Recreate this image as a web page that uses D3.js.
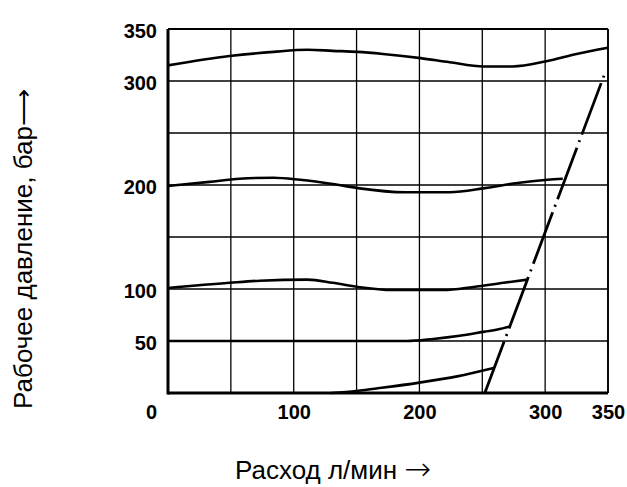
<!DOCTYPE html>
<html>
<head>
<meta charset="utf-8">
<script src="https://cdn.jsdelivr.net/npm/d3@7"></script>
<style>
    body { margin: 0; background: #fff; }
    #container { width: 627px; height: 487px; }
</style>
</head>
<body>
<div id="container"></div>
<script>
// ---- data (flow in l/min, pressure in bar) ----
const gridSteps = [0, 50, 100, 150, 200, 250, 300, 350];
const flowLabels = [100, 200, 300, 350];
const pressureLabels = [50, 100, 200, 300, 350];
const originLabel = "0";

const curve330Flow  = [0, 49, 84, 111, 131, 151, 171, 201, 224, 251, 274, 301, 325, 350];
const curve330Press = [315, 324, 328, 330, 329, 328, 326, 322, 318, 314, 314, 319, 326, 332];

const curve200Flow  = [0, 33, 57, 84, 105, 131, 151, 189, 224, 252, 278, 302, 314];
const curve200Press = [199, 203, 206, 207, 205, 201, 197, 193, 193, 197, 202, 205, 206];

const curve100Flow  = [0, 49, 73, 111, 131, 151, 179, 219, 243, 267, 286];
const curve100Press = [101, 106, 108, 109, 106, 102, 99, 99, 102, 106, 109];

const curve50Flow   = [0, 145, 190, 211, 232, 252, 262, 272];
const curve50Press  = [50, 50, 50, 52, 55, 59, 61, 64];

const curve0Flow    = [130, 150, 170, 200, 230, 259];
const curve0Press   = [0, 2, 5, 10, 16, 24];

const limitFlow     = [252, 348];
const limitPress    = [0, 309];

const xTitle = "Расход л/мин";
const yTitle = "Рабочее давление, бар⟶";
const arrow = "→";

(function(){

    const width = 627;
    const height = 487;
    const margin = {top: 29, right: 19, bottom: 94, left: 168};
    const labelFont = "bold 20px 'Liberation Sans', Arial, sans-serif";
    const titleFont = "26px 'Liberation Sans', Arial, sans-serif";

    const x = d3.scaleLinear([0, 350], [margin.left, width - margin.right]);
    const y = d3.scaleLinear([0, 350], [height - margin.bottom, margin.top]);

    const svg = d3.select("#container")
        .append("svg")
        .attr("width", width)
        .attr("height", height);

    // grid
    const grid = svg.append("g")
        .attr("stroke", "#000")
        .attr("stroke-width", 1.3);

    grid.selectAll(".vgrid")
        .data(gridSteps)
        .join("line")
        .attr("class", "vgrid")
        .attr("x1", d => x(d)).attr("x2", d => x(d))
        .attr("y1", y(0)).attr("y2", y(350));

    grid.selectAll(".hgrid")
        .data(gridSteps)
        .join("line")
        .attr("class", "hgrid")
        .attr("y1", d => y(d)).attr("y2", d => y(d))
        .attr("x1", x(0)).attr("x2", x(350));

    // frame: left and bottom heavier
    svg.append("line")
        .attr("x1", x(0)).attr("x2", x(0))
        .attr("y1", y(0) + 1.5).attr("y2", y(350))
        .attr("stroke", "#000").attr("stroke-width", 3);
    svg.append("line")
        .attr("x1", x(0)).attr("x2", x(350))
        .attr("y1", y(0)).attr("y2", y(0))
        .attr("stroke", "#000").attr("stroke-width", 3);
    svg.append("line")
        .attr("x1", x(0)).attr("x2", x(350))
        .attr("y1", y(350)).attr("y2", y(350))
        .attr("stroke", "#000").attr("stroke-width", 1.8);
    svg.append("line")
        .attr("x1", x(350)).attr("x2", x(350))
        .attr("y1", y(0)).attr("y2", y(350))
        .attr("stroke", "#000").attr("stroke-width", 1.8);

    // axes (labels only)
    const xAxis = d3.axisBottom(x)
        .tickValues(flowLabels)
        .tickSize(0)
        .tickPadding(12);
    const gx = svg.append("g")
        .attr("transform", `translate(0,${y(0)})`)
        .call(xAxis);

    const yAxis = d3.axisLeft(y)
        .tickValues(pressureLabels)
        .tickSize(0)
        .tickPadding(11);
    const gy = svg.append("g")
        .attr("transform", `translate(${x(0)},0)`)
        .call(yAxis);

    [gx, gy].forEach(g => {
        g.select(".domain").remove();
        g.selectAll("text")
            .attr("fill", "#000")
            .style("font", labelFont);
    });
    gy.selectAll("text").attr("dy", "0.4em");

    svg.append("text")
        .attr("x", x(0) - 11)
        .attr("y", y(0) + 12)
        .attr("dy", "0.71em")
        .attr("text-anchor", "end")
        .style("font", labelFont)
        .text(originLabel);

    // curves
    const line = d3.line()
        .x(d => x(d[0]))
        .y(d => y(d[1]))
        .curve(d3.curveMonotoneX);

    const curves = [
        [curve330Flow, curve330Press],
        [curve200Flow, curve200Press],
        [curve100Flow, curve100Press],
        [curve50Flow, curve50Press],
        [curve0Flow, curve0Press]
    ];

    svg.append("g")
        .selectAll("path")
        .data(curves)
        .join("path")
        .attr("d", ([q, p]) => line(d3.zip(q, p)))
        .attr("fill", "none")
        .attr("stroke", "#000")
        .attr("stroke-width", 2.6)
        .attr("stroke-linejoin", "round");

    // limit line (dash-dot)
    svg.append("path")
        .attr("d", d3.line().x(d => x(d[0])).y(d => y(d[1]))(d3.zip(limitFlow, limitPress)))
        .attr("fill", "none")
        .attr("stroke", "#000")
        .attr("stroke-width", 2.8)
        .attr("stroke-dasharray", "55,6,2,6");

    // titles
    const xt = svg.append("text")
        .attr("x", 235)
        .attr("y", 479)
        .style("font", titleFont)
        .text(xTitle + " ");
    xt.append("tspan")
        .style("font-family", "'DejaVu Sans', sans-serif")
        .style("font-weight", 200)
        .style("font-size", "32px")
        .attr("dy", 1)
        .text(arrow);

    svg.append("text")
        .attr("transform", `translate(32,249) rotate(-90)`)
        .attr("text-anchor", "middle")
        .style("font", titleFont)
        .text(yTitle);

})();
</script>
</body>
</html>
